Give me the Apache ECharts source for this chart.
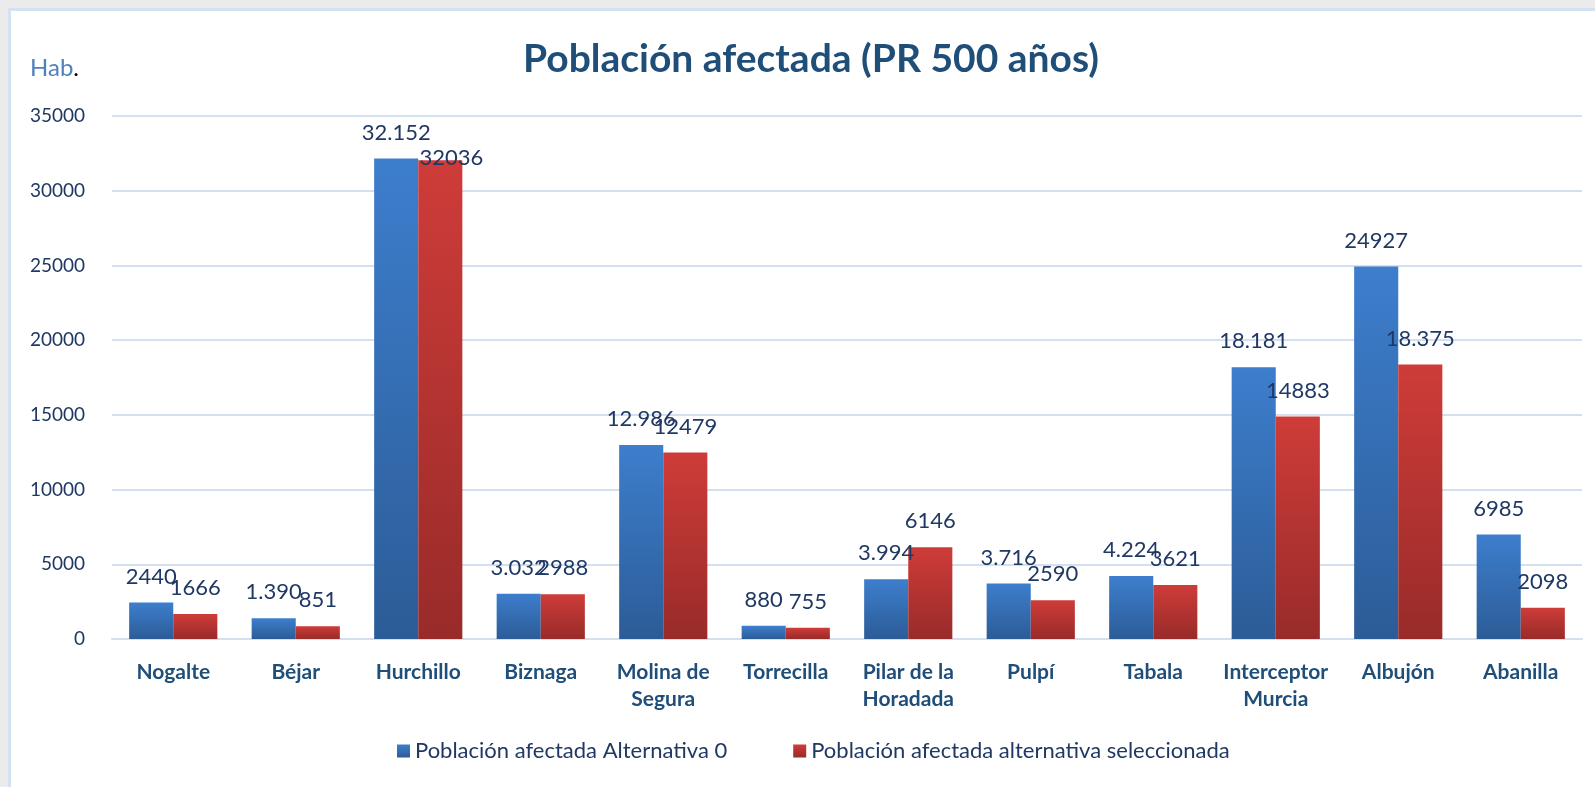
<!DOCTYPE html>
<html>
<head>
<meta charset="utf-8">
<script src="https://cdn.jsdelivr.net/npm/echarts@6/dist/echarts.min.js"></script>
<style>
  body { margin: 0; background: #ebebeb; overflow: hidden; }
  #frame {
    position: absolute; left: 8px; top: 8px; right: -10px; bottom: -10px;
    background: #fff;
    border-left: 3px solid #d4e1f2;
    border-top: 3px solid #d4e1f2;
  }
  #main { position: absolute; left: 0; top: 0; width: 1595px; height: 787px; }
</style>
</head>
<body>
<div id="frame"></div>
<div id="main"></div>
<script>
const categories = ['Nogalte', 'Béjar', 'Hurchillo', 'Biznaga', 'Molina de\nSegura', 'Torrecilla',
  'Pilar de la\nHoradada', 'Pulpí', 'Tabala', 'Interceptor\nMurcia', 'Albujón', 'Abanilla']
const alternativa0 = [2440, 1390, 32152, 3032, 12986, 880, 3994, 3716, 4224, 18181, 24927, 6985]
const alternativaSel = [1666, 851, 32036, 2988, 12479, 755, 6146, 2590, 3621, 14883, 18375, 2098]
// the source labels mix formats, so keep them as written
const labels0 = ['2440', '1.390', '32.152', '3.032', '12.986', '880', '3.994', '3.716', '4.224', '18.181', '24927', '6985']
const labelsSel = ['1666', '851', '32036', '2988', '12479', '755', '6146', '2590', '3621', '14883', '18.375', '2098']
const yTicks = [0, 5000, 10000, 15000, 20000, 25000, 30000, 35000]

const navy = '#1f3864'
const font = 'Lato'

function grad(top, bottom) {
  return new echarts.graphic.LinearGradient(0, 0, 0, 1, [
    { offset: 0, color: top },
    { offset: 1, color: bottom }
  ])
}

let chartDom = document.getElementById('main')
let myChart = echarts.init(chartDom)
let option

option = {
  backgroundColor: 'transparent',
  animation: false,
  title: {
    text: 'Población afectada (PR 500 años)',
    left: 806,
    textAlign: 'center',
    top: 35,
    textStyle: { fontFamily: font, fontSize: 39, fontWeight: 'bold', color: '#1f4e79' }
  },
  graphic: [{
    type: 'text',
    left: 30,
    top: 56,
    style: {
      text: '{a|Hab}{b|.}',
      rich: {
        a: { fontFamily: font, fontSize: 24, fill: '#4f81bd' },
        b: { fontFamily: font, fontSize: 24, fill: '#000' }
      }
    }
  }],
  legend: {
    left: 392,
    top: 735,
    itemWidth: 13,
    itemHeight: 13,
    itemGap: 66,
    icon: 'rect',
    textStyle: { fontFamily: font, fontSize: 22, color: navy },
    data: ['Población afectada Alternativa 0', 'Población afectada alternativa seleccionada']
  },
  grid: {
    left: 112,
    right: 13,
    top: 116,
    bottom: 148,
    containLabel: false
  },
  xAxis: {
    type: 'category',
    data: categories,
    axisTick: { show: false },
    axisLine: { lineStyle: { color: '#d3e0f0', width: 2 } },
    axisLabel: {
      interval: 0,
      margin: 20,
      fontFamily: font,
      fontSize: 21,
      fontWeight: 'bold',
      lineHeight: 27,
      color: '#1f4e79'
    }
  },
  yAxis: {
    type: 'value',
    min: yTicks[0],
    max: yTicks[yTicks.length - 1],
    interval: yTicks[1] - yTicks[0],
    axisLabel: {
      margin: 27,
      fontFamily: font,
      fontSize: 19,
      color: navy,
      formatter: v => String(v)
    },
    splitLine: { lineStyle: { color: '#d3e0f0', width: 2 } }
  },
  series: [
    {
      name: 'Población afectada Alternativa 0',
      type: 'bar',
      barGap: '0%',
      barCategoryGap: '28%',
      itemStyle: { color: grad('#3d7ecd', '#2c5c97') },
      label: {
        show: true,
        position: 'top',
        distance: 15,
        fontFamily: font,
        fontSize: 22,
        color: navy,
        formatter: p => labels0[p.dataIndex]
      },
      data: alternativa0
    },
    {
      name: 'Población afectada alternativa seleccionada',
      type: 'bar',
      itemStyle: { color: grad('#ce3c39', '#982b29') },
      label: {
        show: true,
        position: 'top',
        distance: 15,
        fontFamily: font,
        fontSize: 22,
        color: navy,
        formatter: p => labelsSel[p.dataIndex]
      },
      // Hurchillo label sits lower and to the right in the original
      data: alternativaSel.map((v, i) => i === 2 ? { value: v, label: { offset: [11, 24] } } : v)
    }
  ]
}

option && myChart.setOption(option)
</script>
</body>
</html>
